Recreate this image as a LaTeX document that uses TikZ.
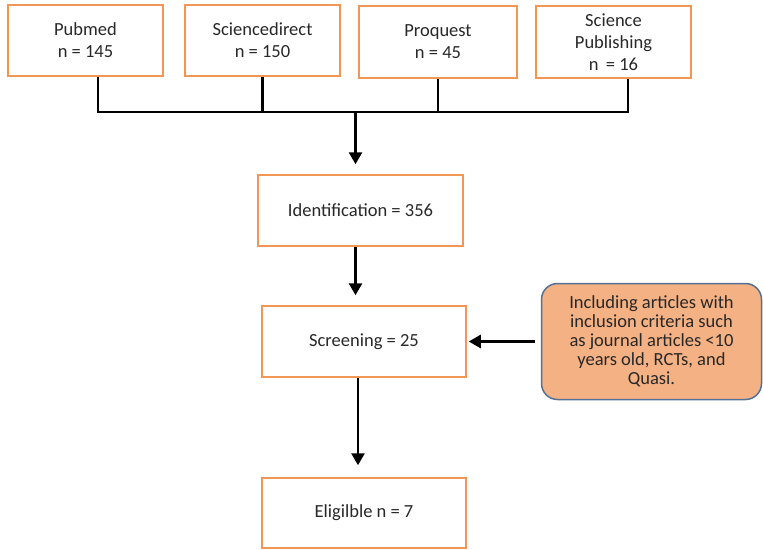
\documentclass[tikz,border=0pt]{standalone}
\usepackage{fontspec}
\setmainfont{Carlito}
\usetikzlibrary{arrows.meta,calc}
\definecolor{boxorange}{RGB}{242,150,85}
\definecolor{calloutfill}{RGB}{244,177,131}
\definecolor{calloutdraw}{RGB}{85,112,150}
\definecolor{txt}{RGB}{40,40,40}
\tikzset{
  srcbox/.style={draw=boxorange,line width=1.5pt,fill=white,align=center,text=txt,
    font=\fontsize{18.5}{22}\selectfont,inner sep=0pt},
  flowbox/.style={srcbox,minimum width=205pt,minimum height=71pt},
  callout/.style={draw=calloutdraw,line width=1.5pt,fill=calloutfill,rounded corners=16pt,
    align=center,text=txt,font=\fontsize{18.5}{19}\selectfont,inner sep=0pt,
    minimum width=220pt,minimum height=116pt},
  conn/.style={line width=2.6pt,black},
  arr/.style={conn,-{Triangle[width=13pt,length=12pt]}}
}
\begin{document}
\begin{tikzpicture}[x=1pt,y=-1pt]
\useasboundingbox (0,0) rectangle (763,549);
% source boxes
\node[srcbox,minimum width=155pt,minimum height=71pt] (pub) at (85.5,40.5) {Pubmed\\n = 145};
\node[srcbox,minimum width=155pt,minimum height=71pt] (sci) at (262.5,40.5) {Sciencedirect\\n = 150};
\node[srcbox,minimum width=158pt,minimum height=72pt] (pro) at (438,42) {Proquest\\n = 45};
\node[srcbox,minimum width=155pt,minimum height=72pt] (spub) at (613.5,42) {Science\\Publishing\\n \,= 16};
% flow boxes
\node[flowbox] (ident) at (360.5,210.5) {Identification = 356};
\node[flowbox,minimum width=204pt] (screen) at (364,341.5) {Screening = 25};
\node[flowbox,minimum width=204pt,minimum height=70pt] (elig) at (364,513) {Eligilble n = 7};
\node[callout] (crit) at (651.5,341.5) {Including articles with\\inclusion criteria such\\as journal articles <10\\years old, RCTs, and\\Quasi.};
% junction
\coordinate (jl) at (98,112);
\coordinate (jr) at (628,112);
\coordinate (jc) at (355.5,112);
\draw[conn] ([xshift=12.5pt]pub.south) -- (jl) -- (jr) -- ([xshift=14.5pt]spub.south);
\draw[conn] (sci.south) -- (sci.south |- jc);
\draw[conn] (pro.south) -- (pro.south |- jc);
\draw[arr,shorten >=10pt] (jc) -- (jc |- ident.north);
\draw[arr,shorten >=10pt] (jc |- ident.south) -- (jc |- screen.north);
\draw[arr,shorten >=12pt] ([xshift=-6pt]screen.south) -- ([xshift=-6pt]elig.north);
\draw[arr,shorten <=6pt,shorten >=2pt] (crit.west) -- (screen.east);
\end{tikzpicture}
\end{document}
